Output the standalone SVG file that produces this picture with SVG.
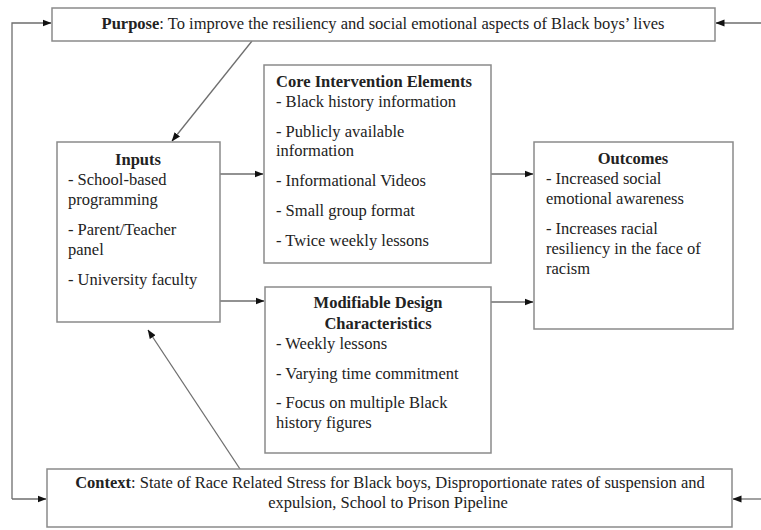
<svg xmlns="http://www.w3.org/2000/svg" width="761" height="530" viewBox="0 0 761 530">
<style>
.box{fill:#fff;stroke:#8a8a8a;stroke-width:1.5}
.ln{fill:none;stroke:#6e6e6e;stroke-width:1.3}
text{font-family:"Liberation Serif","Times New Roman",serif;font-size:16.5px;fill:#222}
.b{font-weight:bold}
.c{text-anchor:middle}
</style>
<defs>
<marker id="ah" markerWidth="9" markerHeight="8" refX="8.5" refY="4" orient="auto" markerUnits="userSpaceOnUse">
<path d="M0,0.5 L9,4 L0,7.5 Z" fill="#111"/>
</marker>
</defs>
<rect width="761" height="530" fill="#fff"/>
<g id="connectors">
<path class="ln" d="M12,499 L12,23 L51,23" marker-end="url(#ah)"/>
<path class="ln" d="M761,23 L716,23" marker-end="url(#ah)"/>
<path class="ln" d="M252,41 L172,141" marker-end="url(#ah)"/>
<path class="ln" d="M220,174 L263,174" marker-end="url(#ah)"/>
<path class="ln" d="M220,301 L264,301" marker-end="url(#ah)"/>
<path class="ln" d="M491,174 L533,174" marker-end="url(#ah)"/>
<path class="ln" d="M491,302 L533,302" marker-end="url(#ah)"/>
<path class="ln" d="M240,469 L148,330" marker-end="url(#ah)"/>
<path class="ln" d="M12,499 L46,499" marker-end="url(#ah)"/>
<path class="ln" d="M761,499 L733,499" marker-end="url(#ah)"/>
</g>
<g id="purpose">
<rect class="box" x="52" y="8" width="663" height="33"/>
<text x="383" y="29" class="c"><tspan class="b">Purpose</tspan>: To improve the resiliency and social emotional aspects of Black boys’ lives</text>
</g>
<g id="inputs">
<rect class="box" x="57" y="142" width="163" height="180"/>
<text x="138" y="165" class="c b">Inputs</text>
<text x="68" y="185">- School-based</text>
<text x="68" y="205">programming</text>
<text x="68" y="235">- Parent/Teacher</text>
<text x="68" y="255">panel</text>
<text x="68" y="285">- University faculty</text>
</g>
<g id="core">
<rect class="box" x="264" y="65" width="227" height="198"/>
<text x="276" y="87" class="b">Core Intervention Elements</text>
<text x="276" y="107">- Black history information</text>
<text x="276" y="137">- Publicly available</text>
<text x="276" y="156">information</text>
<text x="276" y="186">- Informational Videos</text>
<text x="276" y="216">- Small group format</text>
<text x="276" y="246">- Twice weekly lessons</text>
</g>
<g id="modifiable">
<rect class="box" x="265" y="287" width="226" height="166"/>
<text x="378" y="308" class="c b">Modifiable Design</text>
<text x="378" y="329" class="c b">Characteristics</text>
<text x="276" y="349">- Weekly lessons</text>
<text x="276" y="379">- Varying time commitment</text>
<text x="276" y="408">- Focus on multiple Black</text>
<text x="276" y="428">history figures</text>
</g>
<g id="outcomes">
<rect class="box" x="534" y="142" width="199" height="187"/>
<text x="633" y="164" class="c b">Outcomes</text>
<text x="546" y="184">- Increased social</text>
<text x="546" y="204">emotional awareness</text>
<text x="546" y="234">- Increases racial</text>
<text x="546" y="254">resiliency in the face of</text>
<text x="546" y="274">racism</text>
</g>
<g id="context">
<rect class="box" x="47" y="469" width="685" height="58"/>
<text x="390" y="488" class="c"><tspan class="b">Context</tspan>: State of Race Related Stress for Black boys, Disproportionate rates of suspension and</text>
<text x="388" y="508" class="c">expulsion, School to Prison Pipeline</text>
</g>
</svg>
